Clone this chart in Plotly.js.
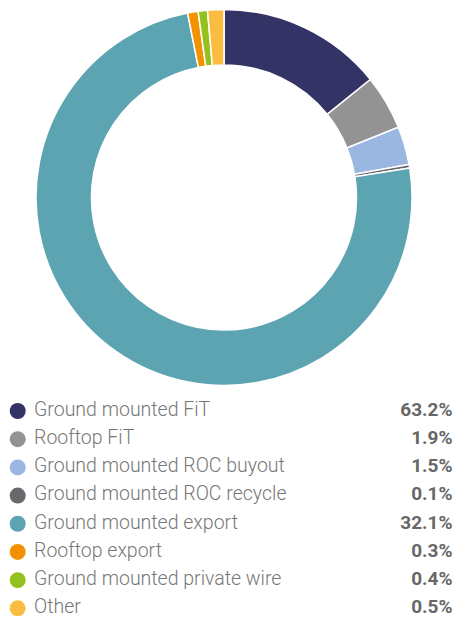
<!DOCTYPE html>
<html>
<head>
<meta charset="utf-8">
<script src="https://cdn.plot.ly/plotly-3.0.1.min.js"></script>
<style>html,body{margin:0;padding:0;background:#fff;}#chart{width:454px;height:618px;}</style>
</head>
<body>
<div id="chart"></div>
<script>
// Categories (legend order)
const categories = [
  "Ground mounted FiT",
  "Rooftop FiT",
  "Ground mounted ROC buyout",
  "Ground mounted ROC recycle",
  "Ground mounted export",
  "Rooftop export",
  "Ground mounted private wire",
  "Other"
];
// Slice sizes as read from the ring (share of circle, %)
const sliceValues = [14.2, 4.7, 3.3, 0.3, 74.4, 0.9, 0.8, 1.4];
// Percentages printed in the legend
const legendPercent = ["63.2%", "1.9%", "1.5%", "0.1%", "32.1%", "0.3%", "0.4%", "0.5%"];
const colors = ["#333465", "#939393", "#99b7e1", "#69696d", "#5ca4b1", "#f39200", "#95c11f", "#fbbc42"];

const rowIdx = categories.map((_, i) => i);

const pie = {
  type: "pie",
  labels: categories,
  values: sliceValues,
  sort: false,
  direction: "clockwise",
  rotation: 0,
  hole: 0.705,
  marker: {colors: colors, line: {color: "#ffffff", width: 1.5}},
  textinfo: "none",
  hoverinfo: "label+percent",
  showlegend: false,
  domain: {x: [36/454, 412/454], y: [1 - 385.5/618, 1 - 9.5/618]}
};

const dots = {
  type: "scatter", mode: "markers",
  x: rowIdx.map(() => 17.7), y: rowIdx,
  marker: {size: 16, color: colors},
  hoverinfo: "skip", showlegend: false
};
const names = {
  type: "scatter", mode: "text",
  x: rowIdx.map(() => 34), y: rowIdx,
  text: categories, textposition: "middle right",
  textfont: {family: "Roboto", size: 19.5, color: "#777777", weight: 300},
  hoverinfo: "skip", showlegend: false
};
const pcts = {
  type: "scatter", mode: "text",
  x: rowIdx.map(() => 452.5), y: rowIdx,
  text: legendPercent, textposition: "middle left",
  textfont: {family: "Roboto", size: 19, color: "#676767", weight: 700},
  hoverinfo: "skip", showlegend: false
};

const layout = {
  width: 454, height: 618,
  margin: {l: 0, r: 0, t: 0, b: 0},
  paper_bgcolor: "#ffffff", plot_bgcolor: "rgba(0,0,0,0)",
  showlegend: false,
  xaxis: {range: [0, 454], visible: false, fixedrange: true},
  yaxis: {range: [(618 - 411) / 28.19, -411 / 28.19], visible: false, fixedrange: true}
};

Plotly.newPlot("chart", [pie, dots, names, pcts], layout, {displayModeBar: false, staticPlot: true});
</script>
</body>
</html>
